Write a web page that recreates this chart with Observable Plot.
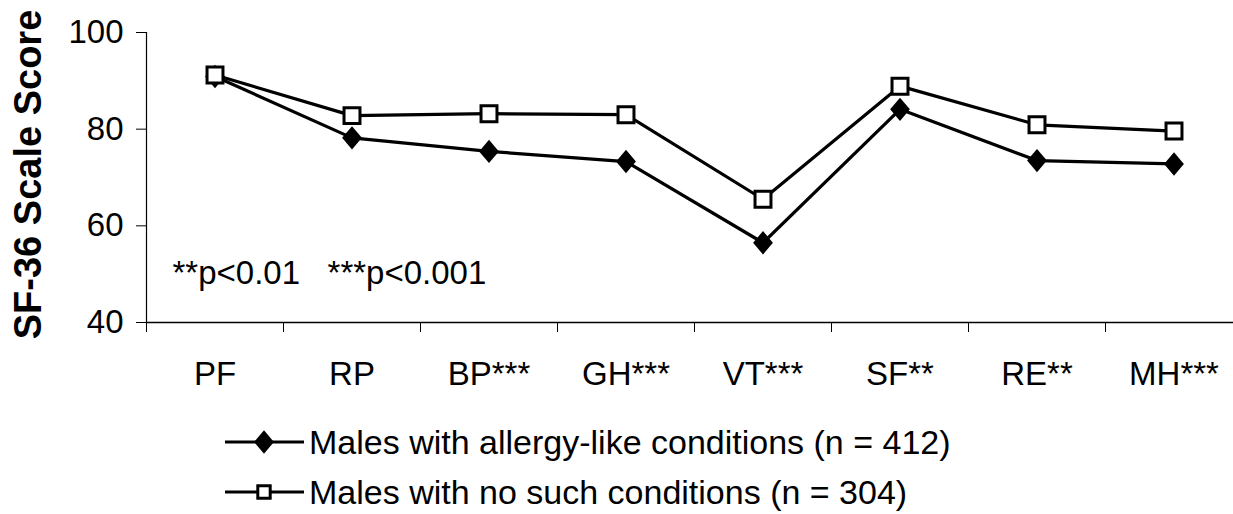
<!DOCTYPE html>
<html>
<head>
<meta charset="utf-8">
<script src="https://cdn.jsdelivr.net/npm/d3@7"></script>
<script src="https://cdn.jsdelivr.net/npm/@observablehq/plot@0.6"></script>
<style>
  html, body { margin: 0; padding: 0; background: #fff; overflow: hidden; }
  #chart svg { display: block; overflow: hidden; }
  text { font-family: "Liberation Sans", Arial, sans-serif; }
</style>
</head>
<body>
<div id="chart"></div>
<div id="legend"></div>
<script>
const categories = ["PF", "RP", "BP***", "GH***", "VT***", "SF**", "RE**", "MH***"];
const allergyScores = [90.9, 78.2, 75.4, 73.3, 56.5, 84.1, 73.5, 72.8];
const noneScores = [91.2, 82.8, 83.2, 83.0, 65.5, 88.9, 80.9, 79.6];
const seriesNames = ["Males with allergy-like conditions (n = 412)", "Males with no such conditions (n = 304)"];
const yTicks = [40, 60, 80, 100];
const yLabel = "SF-36 Scale Score";
const note = "**p<0.01\u00a0\u00a0\u00a0***p<0.001";

const tall = {
  draw(context, size) {
    const r = Math.sqrt(size / Math.PI);
    context.moveTo(0, -1.3 * r);
    context.lineTo(1.1 * r, 0);
    context.lineTo(0, 1.3 * r);
    context.lineTo(-1.1 * r, 0);
    context.closePath();
  }
};

const allergy = categories.map((c, i) => ({i: i + 0.5, v: allergyScores[i]}));
const none = categories.map((c, i) => ({i: i + 0.5, v: noneScores[i]}));

const W = 1233, H = 410;
const chart = Plot.plot({
  width: W,
  height: H,
  marginLeft: 146,
  marginTop: 32,
  marginBottom: 88,
  marginRight: 0,
  style: {fontFamily: "Liberation Sans, Arial, sans-serif", fontSize: "33px", background: "#fff"},
  x: {domain: [0, categories.length], range: [146, 146 + 137 * categories.length], axis: null},
  y: {domain: [40, 100], axis: null},
  marks: [
    Plot.frame({anchor: "left", stroke: "#000", strokeWidth: 1.2}),
    Plot.frame({anchor: "bottom", stroke: "#000", strokeWidth: 1.5}),
    Plot.axisY(yTicks, {tickSize: 10, tickPadding: 13, fontSize: 33, label: null, stroke: "#000", fill: "#000"}),
    Plot.axisX(d3.range(categories.length + 1), {tickSize: 10, tickFormat: () => "", label: null, stroke: "#000"}),
    Plot.axisX(categories.map((c, i) => i + 0.5), {tickSize: 0, tickPadding: 39, fontSize: 33, label: null, fill: "#000",
      tickFormat: d => categories[Math.floor(d)]}),
    Plot.text([yLabel], {frameAnchor: "left", rotate: -90, dx: -118, dy: -3, text: d => d, fontSize: 38, fontWeight: "bold", fill: "#000", textAnchor: "middle", lineAnchor: "middle"}),
    Plot.text([note], {frameAnchor: "bottom-left", dx: 26, dy: -39, text: d => d, fontSize: 33, fill: "#000", textAnchor: "start", lineAnchor: "bottom"}),
    Plot.line(allergy, {x: "i", y: "v", stroke: "#000", strokeWidth: 3.2}),
    Plot.dot(allergy, {x: "i", y: "v", symbol: tall, r: 9, fill: "#000", stroke: "none"}),
    Plot.line(none, {x: "i", y: "v", stroke: "#000", strokeWidth: 3.2}),
    Plot.dot(none, {x: "i", y: "v", symbol: "square", r: 9, fill: "#fff", stroke: "#000", strokeWidth: 3})
  ]
});
document.getElementById("chart").appendChild(chart);

// Legend
const lg = d3.select("#legend").append("svg").attr("width", W).attr("height", 104).style("display", "block");
const rows = [{name: seriesNames[0], sym: tall, fill: "#000", stroke: "none", sw: 0},
              {name: seriesNames[1], sym: d3.symbolSquare, fill: "#fff", stroke: "#000", sw: 3}];
rows.forEach((r, k) => {
  const cy = 32 + 50 * k;
  const g = lg.append("g").attr("transform", `translate(0,${cy})`);
  g.append("line").attr("x1", 225).attr("x2", 304).attr("y1", 0).attr("y2", 0).attr("stroke", "#000").attr("stroke-width", 3.2);
  g.append("path").attr("transform", "translate(264,0)")
    .attr("d", d3.symbol(r.sym, Math.PI * (k === 0 ? 81 : 49))())
    .attr("fill", r.fill).attr("stroke", r.stroke).attr("stroke-width", r.sw);
  g.append("text").attr("x", 309).attr("y", 0).attr("dy", "0.36em").attr("font-size", 34).attr("fill", "#000").text(r.name);
});
</script>
</body>
</html>
